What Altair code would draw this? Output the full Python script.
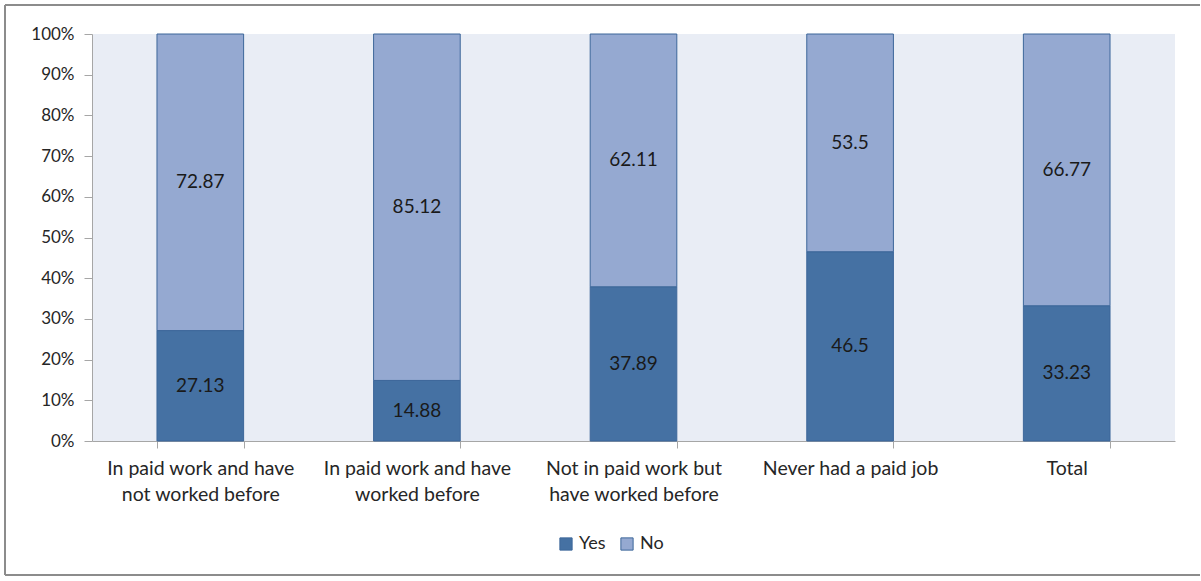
import altair as alt
import pandas as pd

categories = [
    "In paid work and have not worked before",
    "In paid work and have worked before",
    "Not in paid work but have worked before",
    "Never had a paid job",
    "Total",
]
label_lines = [
    ["In paid work and have", "not worked before"],
    ["In paid work and have", "worked before"],
    ["Not in paid work but", "have worked before"],
    ["Never had a paid job"],
    ["Total"],
]
yes_values = [27.13, 14.88, 37.89, 46.5, 33.23]
no_values = [72.87, 85.12, 62.11, 53.5, 66.77]
series = ["Yes", "No"]
colors = ["#4571A3", "#95A9D1"]

rows = []
for i, c in enumerate(categories):
    rows.append({"cat": c, "series": "Yes", "order": 0, "value": yes_values[i],
                 "start": 0, "end": yes_values[i], "label": f"{yes_values[i]:g}"})
    rows.append({"cat": c, "series": "No", "order": 1, "value": no_values[i],
                 "start": yes_values[i], "end": yes_values[i] + no_values[i],
                 "label": f"{no_values[i]:g}"})
df = pd.DataFrame(rows)
df["mid"] = (df["start"] + df["end"]) / 2

FONT = "Lato"
W, H = 1083, 407

label_expr = ""
for c, lines in zip(categories, label_lines):
    arr = "[" + ",".join("'" + l + "'" for l in lines) + "]"
    label_expr += f"datum.value == '{c}' ? {arr} : "
label_expr += "datum.label"

x_enc = alt.X(
    "cat:N", sort=categories, title=None,
    scale=alt.Scale(paddingInner=0.6, paddingOuter=0.3),
    axis=alt.Axis(
        labelExpr=label_expr, labelAngle=0, labelFont=FONT, labelFontSize=19.5,
        labelColor="#262626", labelPadding=11, tickBand="extent", tickSize=7,
        tickColor="#A6A6A6", domainColor="#A6A6A6", labelLineHeight=26,
        labelBaseline="top", grid=False, labelLimit=300,
    ),
)

bars = alt.Chart(df).mark_bar(stroke="#3D679A", strokeWidth=1).encode(
    x=x_enc,
    y=alt.Y("start:Q", scale=alt.Scale(domain=[0, 100]), title=None,
            axis=alt.Axis(values=list(range(0, 101, 10)),
                          labelExpr="datum.value + '%'",
                          labelFont=FONT, labelFontSize=17, labelColor="#262626",
                          tickSize=8, tickColor="#A6A6A6", domainColor="#A6A6A6",
                          labelPadding=10, grid=False)),
    y2="end:Q",
    color=alt.Color("series:N", scale=alt.Scale(domain=series, range=colors),
                    sort=series,
                    legend=alt.Legend(orient="none", direction="horizontal",
                                      legendX=465, legendY=501, title=None,
                                      symbolType="square", symbolSize=150,
                                      symbolStrokeColor="#3D679A", symbolStrokeWidth=1,
                                      labelFont=FONT, labelFontSize=18,
                                      labelColor="#262626", columnPadding=12,
                                      labelOffset=4)),
    order=alt.Order("order:Q"),
)

texts = alt.Chart(df).mark_text(font=FONT, fontSize=19, color="#1A1A1A").encode(
    x=alt.X("cat:N", sort=categories),
    y=alt.Y("mid:Q"),
    text="label:N",
)

one = pd.DataFrame({"a": [0]})
rule_style = dict(stroke="#8C8C8C", strokeWidth=2)
top_rule = alt.Chart(one).mark_rule(**rule_style).encode(
    x=alt.value(-87), x2=alt.value(1108), y=alt.value(-29))
bottom_rule = alt.Chart(one).mark_rule(**rule_style).encode(
    x=alt.value(-87), x2=alt.value(1108), y=alt.value(541))
left_rule = alt.Chart(one).mark_rule(**rule_style).encode(
    x=alt.value(-87), y=alt.value(-29), y2=alt.value(541))

chart = alt.layer(top_rule, bottom_rule, left_rule, bars, texts).properties(
    width=W, height=H,
    autosize=alt.AutoSizeParams(type="none"),
    padding={"left": 92, "top": 34, "right": 26, "bottom": 136},
    background="white",
).configure_view(fill="#E9EDF5", stroke=None)

chart.save("out.html", embed_options={"renderer": "svg", "actions": False})
